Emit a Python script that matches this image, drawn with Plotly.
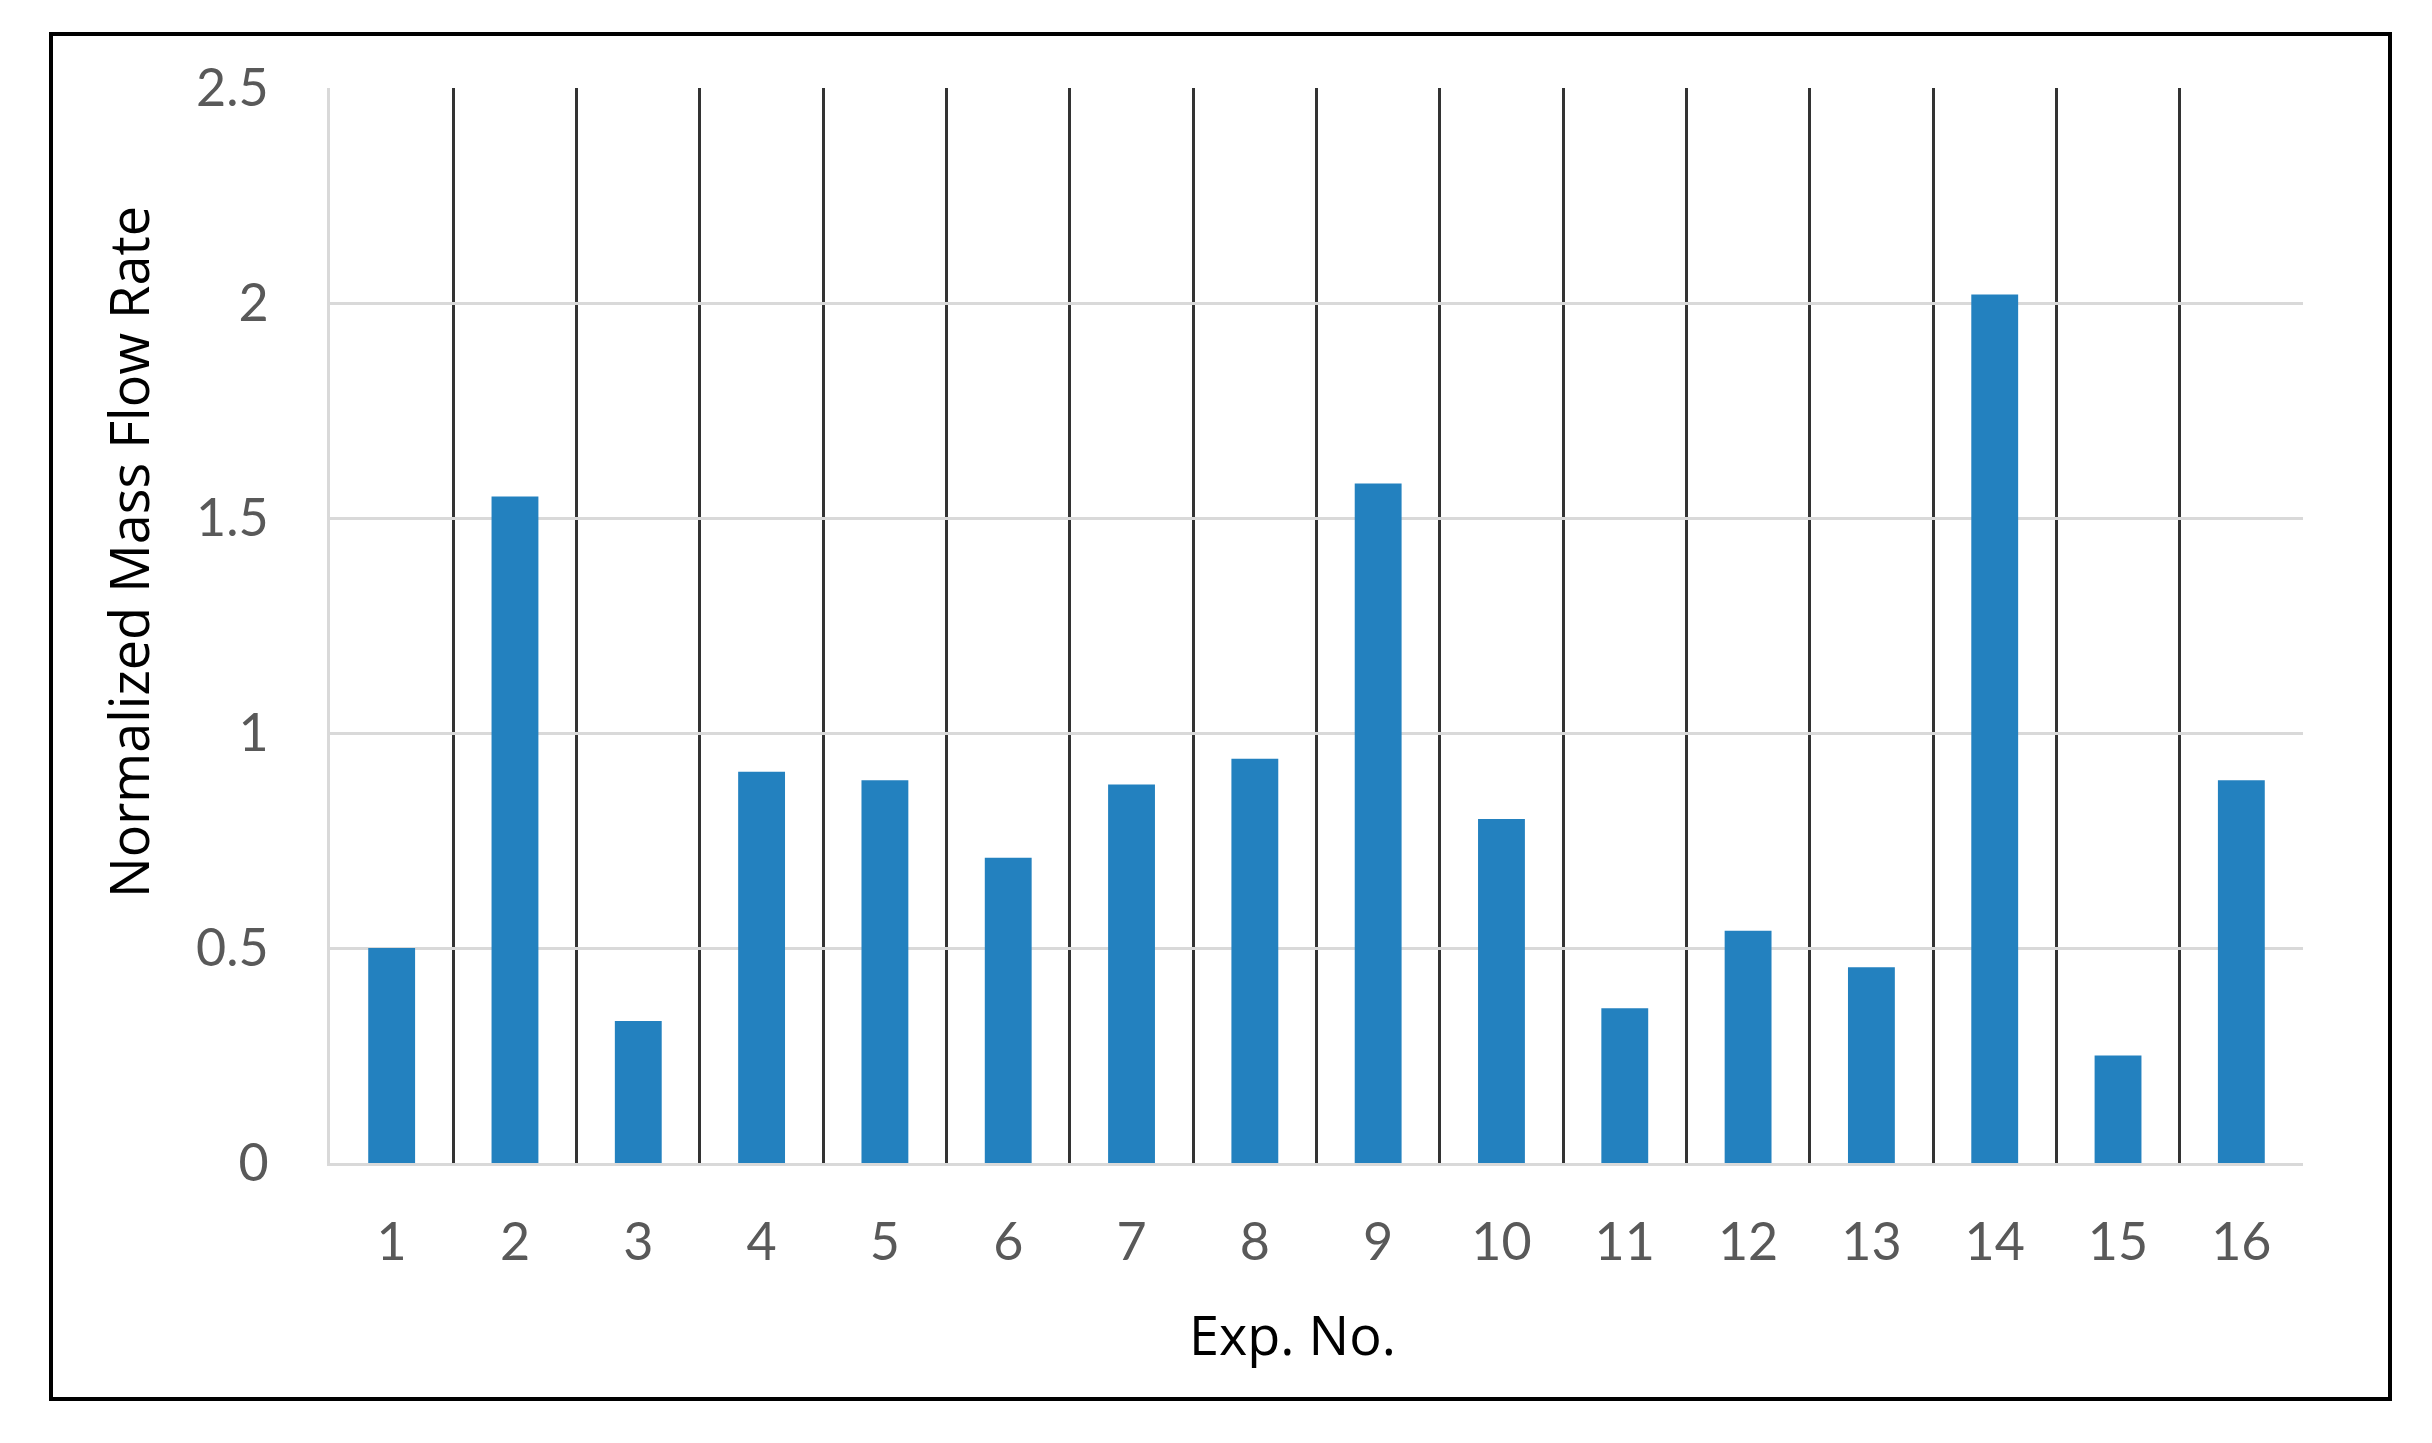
"""
Portata massica normalizzata per ciascun esperimento (grafico a barre).
"""

import plotly.graph_objects as go

exp_no = [str(i) for i in range(1, 17)]
mass_flow_norm = [
    0.50, 1.55, 0.33, 0.91, 0.89, 0.71, 0.88, 0.94,
    1.58, 0.80, 0.36, 0.54, 0.455, 2.02, 0.25, 0.89,
]
y_ticks = [0, 0.5, 1, 1.5, 2, 2.5]
y_tick_text = ["0", "0.5", "1", "1.5", "2", "2.5"]

# La pagina HTML ha un margine di 8 px: compenso sottraendolo.
OFF = 8
W, H = 2432 - OFF, 1443 - OFF
# Area del grafico in pixel (sinistra, destra, alto, basso).
PL, PR, PT, PB = 330 - OFF, 2303 - OFF, 88 - OFF, 1163 - OFF
# Cornice esterna in pixel.
FL, FR, FT, FB = 51 - OFF, 2390 - OFF, 34 - OFF, 1399 - OFF
pw, ph = PR - PL, PB - PT


def px_x(x):
    # pixel orizzontale (pagina) -> coordinata paper
    return (x - OFF - PL) / pw


def px_y(y):
    # pixel verticale (pagina) -> coordinata paper
    return (PB - (y - OFF)) / ph


fig = go.Figure()
fig.add_trace(
    go.Bar(
        x=exp_no,
        y=mass_flow_norm,
        marker=dict(color="#2381bf", line=dict(width=0)),
    )
)

tick_font = dict(family="Lato, 'Noto Sans', sans-serif", size=52, color="#595959")
title_font = dict(family="'Open Sans', 'Noto Sans', sans-serif", size=54, color="#000000")

fig.update_xaxes(
    type="category",
    tickson="boundaries",
    showgrid=True,
    gridcolor="#333333",
    gridwidth=2.5,
    ticks="",
    showline=True,
    linecolor="#d9d9d9",
    linewidth=3,
    tickfont=tick_font,
    ticklabelstandoff=32,
)
fig.update_yaxes(
    range=[0, 2.5],
    tickvals=y_ticks,
    ticktext=y_tick_text,
    showgrid=True,
    gridcolor="#d9d9d9",
    gridwidth=3,
    zeroline=False,
    showline=True,
    linecolor="#d9d9d9",
    linewidth=3,
    ticks="",
    tickfont=tick_font,
    ticklabelstandoff=48,
)

# Titoli degli assi come annotazioni (nel riferimento non sono centrati).
fig.add_annotation(
    text="Exp. No.", xref="paper", yref="paper",
    x=px_x(1292), y=px_y(1334), xanchor="center", yanchor="middle",
    showarrow=False, font=title_font,
)
fig.add_annotation(
    text="Normalized Mass Flow Rate", xref="paper", yref="paper",
    x=px_x(128), y=px_y(552), xanchor="center", yanchor="middle",
    textangle=-90, showarrow=False, font=title_font,
)

# Cornice nera attorno all'intera figura.
fig.add_shape(
    type="rect",
    xref="paper",
    yref="paper",
    x0=(FL - PL) / pw,
    x1=(FR - PL) / pw,
    y0=(PB - FB) / ph,
    y1=(PB - FT) / ph,
    line=dict(color="#000000", width=4),
    fillcolor="rgba(0,0,0,0)",
)

fig.update_layout(
    width=W,
    height=H,
    margin=dict(l=PL, r=W - PR, t=PT, b=H - PB, autoexpand=False),
    bargap=0.62,
    showlegend=False,
    paper_bgcolor="white",
    plot_bgcolor="white",
)

fig.write_html("out.html")
